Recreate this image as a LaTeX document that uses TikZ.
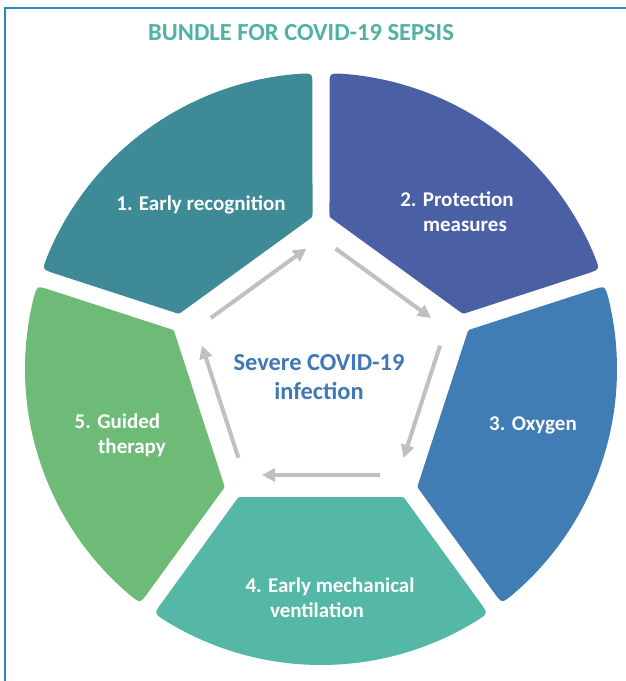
\documentclass[tikz,border=0pt]{standalone}
\usepackage{fontspec}
\setmainfont{Carlito}
\usetikzlibrary{arrows.meta}
\definecolor{cA}{HTML}{3E8A96}
\definecolor{cB}{HTML}{4A5FA4}
\definecolor{cC}{HTML}{3F7DB4}
\definecolor{cD}{HTML}{55B8A6}
\definecolor{cE}{HTML}{6EBB78}
\definecolor{titlecol}{HTML}{4FB3A0}
\definecolor{centercol}{HTML}{3F78B4}
\definecolor{framecol}{HTML}{2A8CB2}
\definecolor{arrowcol}{HTML}{C0C0C0}
\tikzset{
  segtxt/.style={text=white, font=\fontsize{21}{25}\selectfont\bfseries, align=center, inner sep=0pt},
  ctxt/.style={text=centercol, font=\fontsize{24.4}{29}\selectfont\bfseries, align=center, inner sep=0pt},
  titletxt/.style={text=titlecol, font=\fontsize{24.5}{28}\selectfont\bfseries, inner sep=0pt},
  cyclearrow/.style={draw=arrowcol, line width=4pt, -{Triangle[length=13pt,width=13pt]}},
}
\newcommand\segshape{(131.24,-84.85) -- (233.9,-159.4) .. controls (244.4,-167) .. (-31.83:296) arc[start angle=-31.83, end angle=31.83, radius=296] .. controls (244.4,167) .. (233.9,159.4) -- (131.24,84.85) .. controls (128,82.5) .. (128,78.5) -- (128,-78.5) .. controls (128,-82.5) .. (131.24,-84.85) -- cycle}
\begin{document}
\begin{tikzpicture}[x=1pt,y=1pt]
\useasboundingbox (0,0) rectangle (626,-681);
\fill[white] (0,0) rectangle (626,-681);
\draw[framecol, line width=1.5pt] (5,-681) -- (5,-8) -- (626,-8);
\node[titletxt] (title) at (301,-33) {BUNDLE FOR COVID-19 SEPSIS};
\foreach \ang/\col in {126/cA, 54/cB, -18/cC, -90/cD, 198/cE}{
  \fill[\col, shift={(321,-369)}, rotate=\ang] \segshape;
}
\foreach \ang [count=\i] in {126, 54, -18, -90, 198}{
  \path[shift={(321,-369)}, rotate=\ang] (106,59) coordinate (as\i) (106,-59) coordinate (ae\i);
}
\foreach \i in {1,...,5}{
  \draw[cyclearrow] (as\i) -- (ae\i);
}
\node[segtxt] (t1) at (201,-205) {1. Early recognition};
\node[segtxt] (t2) at (457,-212) {2. Protection\\\hspace*{16pt}measures};
\node[segtxt] (t3) at (533,-425) {3. Oxygen};
\node[segtxt] (t4) at (330,-598) {4. Early mechanical\\ventilation\hspace*{26pt}};
\node[segtxt] (t5) at (125,-435) {5. Guided\hspace*{15pt}\\\hspace*{14pt}therapy};
\node[ctxt] (ct) at (319,-377) {Severe COVID-19\\infection};
\end{tikzpicture}
\end{document}
